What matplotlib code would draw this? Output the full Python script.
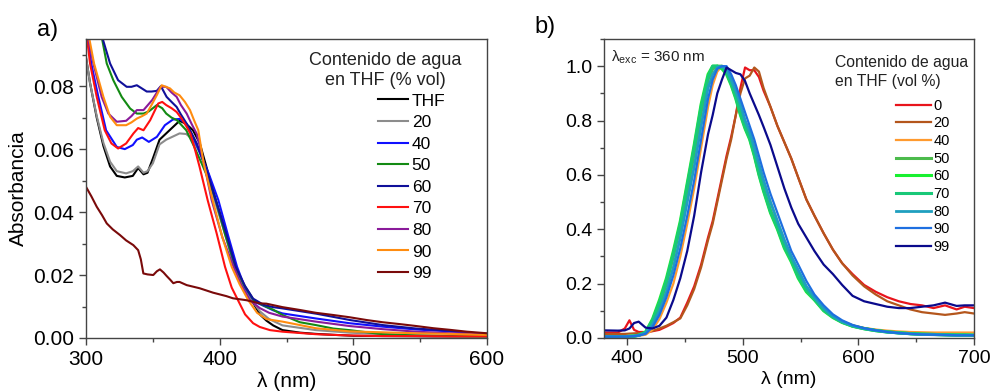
import matplotlib
matplotlib.use('Agg')
import matplotlib.pyplot as plt
from matplotlib.ticker import MultipleLocator

plt.rcParams['font.family'] = ['Liberation Sans', 'DejaVu Sans']
plt.rcParams['mathtext.fontset'] = 'custom'
plt.rcParams['mathtext.rm'] = 'Liberation Sans'

# ---- a) absorption spectra (wavelength nm, absorbance) ----
wl_thf = [300, 303, 308, 313, 318, 323, 329, 335, 339, 343, 346, 350, 355, 360, 365, 370, 375, 380, 385, 390,
          397, 405, 412, 418, 424, 430, 435, 440, 447, 460, 472, 485, 500, 530, 560, 600]
abs_thf = [0.089, 0.081, 0.070, 0.061, 0.0545, 0.0515, 0.051, 0.0515, 0.054, 0.052, 0.0525, 0.057, 0.063, 0.065,
           0.067, 0.069, 0.068, 0.066, 0.062, 0.0545, 0.044, 0.033, 0.0226, 0.016, 0.012, 0.0075, 0.0055, 0.004,
           0.0025, 0.0017, 0.0013, 0.001, 0.0007, 0.0006, 0.0005, 0.0005]

wl_20 = [300, 303, 308, 313, 318, 323, 330, 335, 339, 343, 346, 350, 355, 360, 365, 370, 375, 380, 385, 390,
         396, 404, 411, 418, 424, 430, 437, 447, 472, 497, 522, 547, 572, 600]
abs_20 = [0.089, 0.081, 0.0705, 0.062, 0.056, 0.053, 0.0523, 0.053, 0.0545, 0.0525, 0.053, 0.0555, 0.0615, 0.063,
          0.064, 0.065, 0.0648, 0.063, 0.059, 0.0535, 0.044, 0.033, 0.0226, 0.016, 0.012, 0.0085, 0.006, 0.004,
          0.0025, 0.0017, 0.0012, 0.0009, 0.0007, 0.0006]

wl_40 = [300, 304, 309, 315, 323, 329, 335, 338, 342, 347, 353, 359, 365, 370, 375, 380, 385, 392, 399, 406,
         413, 419, 426, 433, 440, 447, 472, 497, 522, 547, 572, 597, 600]
abs_40 = [0.098, 0.087, 0.077, 0.066, 0.0607, 0.060, 0.0613, 0.063, 0.0637, 0.0623, 0.0639, 0.0676, 0.0694,
          0.0696, 0.0681, 0.064, 0.059, 0.052, 0.0438, 0.033, 0.0226, 0.016, 0.0115, 0.0102, 0.0088, 0.0078,
          0.0062, 0.0047, 0.0036, 0.0027, 0.0021, 0.0014, 0.0013]

wl_50 = [300, 308, 312, 315.5, 320.4, 326.7, 333, 338, 343, 347, 353, 357, 360, 364, 368, 375, 381, 387, 392,
         397, 404, 411.6, 418, 425.5, 432, 440, 447, 460, 472, 485, 497, 522, 547, 572, 600]
abs_50 = [0.13, 0.105, 0.095, 0.0872, 0.0819, 0.0766, 0.0729, 0.0713, 0.0713, 0.072, 0.074, 0.073, 0.0713, 0.070,
          0.0692, 0.066, 0.0607, 0.055, 0.050, 0.0438, 0.033, 0.0226, 0.017, 0.012, 0.0105, 0.009, 0.0073, 0.005,
          0.0041, 0.003, 0.0025, 0.0012, 0.0008, 0.0006, 0.0005]

wl_60 = [300, 305, 310, 312.5, 318, 324, 330.4, 334, 338, 341, 345.4, 349, 352.9, 356, 360.3, 364, 367.8, 371,
         375.3, 379, 382.8, 387.5, 392, 397, 405, 412, 419, 425, 433, 440, 447, 472.5, 497.5, 522, 547, 572, 597, 600]
abs_60 = [0.14, 0.12, 0.103, 0.095, 0.0872, 0.0819, 0.0798, 0.0798, 0.0803, 0.0795, 0.0783, 0.0783, 0.0785, 0.080,
          0.0766, 0.075, 0.0734, 0.071, 0.0681, 0.065, 0.0619, 0.0565, 0.051, 0.0438, 0.033, 0.0226, 0.0165, 0.0125,
          0.0105, 0.0098, 0.0094, 0.0077, 0.0057, 0.0041, 0.003, 0.0023, 0.0012, 0.0012]

wl_70 = [300, 303, 308, 314, 319, 324, 330, 335.5, 339, 343, 348, 354, 357, 360, 364, 367.8, 371, 375.3, 378, 381,
         385, 391, 397.7, 404, 409, 413.7, 419, 425, 430, 437.6, 447, 472, 497, 522, 547, 572, 600]
abs_70 = [0.098, 0.0872, 0.0766, 0.066, 0.0618, 0.0602, 0.0618, 0.065, 0.0667, 0.066, 0.0692, 0.0745, 0.075,
          0.074, 0.073, 0.0718, 0.070, 0.0671, 0.065, 0.0607, 0.0543, 0.0438, 0.0333, 0.0226, 0.016, 0.012, 0.0075,
          0.0047, 0.0035, 0.0025, 0.002, 0.0012, 0.0008, 0.0006, 0.0006, 0.0005, 0.0005]

wl_80 = [300, 301.7, 305.5, 311.7, 316.7, 323, 330, 334, 338, 343, 349.5, 355.7, 360, 364, 367.8, 371, 375.3, 379,
         382.8, 388, 394, 402, 410.4, 416, 422.6, 430, 437, 447, 472, 497, 522, 547, 572, 597, 600]
abs_80 = [0.10, 0.095, 0.0872, 0.0766, 0.0713, 0.0687, 0.069, 0.0705, 0.0724, 0.0724, 0.0756, 0.0798, 0.0798,
          0.078, 0.0766, 0.074, 0.0713, 0.068, 0.0649, 0.056, 0.0438, 0.032, 0.0226, 0.017, 0.012, 0.0095, 0.008,
          0.0068, 0.0052, 0.0038, 0.0028, 0.002, 0.0015, 0.0013, 0.0013]

wl_90 = [300, 302.5, 306, 313, 318, 323, 330, 334, 338, 342, 345.4, 349, 352.9, 356.6, 362.8, 366, 370, 374,
         377.8, 381, 384, 388, 394.7, 402, 409, 415, 421.4, 428, 435, 447, 472, 497, 522, 547, 572, 597, 600]
abs_90 = [0.10, 0.095, 0.0872, 0.0766, 0.0703, 0.0676, 0.0676, 0.0685, 0.0697, 0.0705, 0.0713, 0.074, 0.0771,
          0.0803, 0.0793, 0.078, 0.0771, 0.075, 0.0724, 0.069, 0.066, 0.0555, 0.0438, 0.032, 0.0226, 0.017, 0.012,
          0.008, 0.006, 0.0052, 0.0031, 0.0021, 0.0018, 0.0015, 0.0013, 0.001, 0.001]

wl_99 = [300, 304, 308, 312, 315.5, 320, 325.4, 330, 335.4, 339, 341, 342.9, 346, 350.3, 353, 355.3, 358, 360.3,
         363, 365.3, 368, 370, 375.3, 385, 395, 405, 410, 420, 430, 435, 447, 460, 472, 485, 497, 510, 522, 535,
         547, 560, 572, 585, 597, 600]
abs_99 = [0.048, 0.045, 0.0417, 0.039, 0.0364, 0.0345, 0.0327, 0.031, 0.0295, 0.0279, 0.025, 0.0205, 0.0202,
          0.020, 0.0212, 0.0218, 0.0208, 0.0197, 0.0185, 0.0174, 0.0178, 0.0178, 0.0168, 0.0158, 0.0144, 0.0133,
          0.0126, 0.012, 0.011, 0.0109, 0.0098, 0.0089, 0.008, 0.0073, 0.0066, 0.0057, 0.005, 0.0044, 0.0038,
          0.0031, 0.0026, 0.002, 0.0016, 0.0015]

abs_series = [
    ('THF', wl_thf, abs_thf, 'black'),
    ('20', wl_20, abs_20, '#8c8c8c'),
    ('40', wl_40, abs_40, '#1010ff'),
    ('50', wl_50, abs_50, '#138a13'),
    ('60', wl_60, abs_60, '#10109a'),
    ('70', wl_70, abs_70, '#ff1010'),
    ('80', wl_80, abs_80, '#8a1a9a'),
    ('90', wl_90, abs_90, '#ff8c10'),
    ('99', wl_99, abs_99, '#7a0a0a'),
]

# ---- b) normalised emission (common wavelength grid) ----
wl_pl = [380, 392, 398, 402, 406, 410, 416, 422, 428, 434, 440, 446, 452, 458, 464, 470, 474, 478, 482, 486,
         490, 494, 498, 502, 506, 510, 514, 518, 524, 530, 536, 542, 548, 555, 562, 570, 578, 586, 595, 605,
         615, 625, 635, 645, 655, 665, 675, 685, 692, 700]
pl_0 = [0.02, 0.02, 0.035, 0.065, 0.03, 0.022, 0.022, 0.025, 0.03, 0.042, 0.055, 0.075, 0.13, 0.19, 0.27, 0.37,
        0.43, 0.51, 0.59, 0.67, 0.74, 0.82, 0.92, 0.995, 0.985, 0.985, 0.96, 0.91, 0.85, 0.78, 0.72, 0.66, 0.59,
        0.51, 0.45, 0.385, 0.325, 0.275, 0.235, 0.195, 0.17, 0.15, 0.135, 0.125, 0.12, 0.11, 0.12, 0.105, 0.115, 0.11]
pl_20 = [0.015, 0.015, 0.015, 0.016, 0.017, 0.018, 0.02, 0.026, 0.035, 0.045, 0.058, 0.072, 0.12, 0.18, 0.26,
         0.36, 0.42, 0.5, 0.58, 0.66, 0.73, 0.82, 0.9, 0.955, 0.965, 0.995, 0.98, 0.92, 0.85, 0.78, 0.72, 0.66,
         0.59, 0.51, 0.45, 0.385, 0.325, 0.275, 0.23, 0.19, 0.16, 0.135, 0.12, 0.105, 0.095, 0.09, 0.085, 0.09,
         0.095, 0.09]
pl_40 = [0.005, 0.005, 0.005, 0.006, 0.007, 0.008, 0.012, 0.03, 0.07, 0.13, 0.2, 0.3, 0.42, 0.55, 0.7, 0.85,
         0.93, 0.98, 1.0, 0.99, 0.96, 0.91, 0.86, 0.8, 0.76, 0.71, 0.64, 0.58, 0.5, 0.43, 0.36, 0.3, 0.24, 0.19,
         0.15, 0.11, 0.082, 0.062, 0.047, 0.037, 0.031, 0.027, 0.024, 0.022, 0.021, 0.02, 0.02, 0.02, 0.02, 0.02]
pl_50 = [0.005, 0.005, 0.005, 0.006, 0.007, 0.01, 0.02, 0.06, 0.12, 0.2, 0.3, 0.41, 0.54, 0.68, 0.83, 0.95,
         0.99, 1.0, 1.0, 0.98, 0.94, 0.89, 0.83, 0.78, 0.74, 0.68, 0.61, 0.55, 0.47, 0.41, 0.34, 0.29, 0.23, 0.18,
         0.145, 0.105, 0.078, 0.059, 0.044, 0.035, 0.028, 0.023, 0.019, 0.016, 0.014, 0.013, 0.012, 0.011, 0.011, 0.01]
pl_60 = [0.005, 0.005, 0.005, 0.006, 0.007, 0.01, 0.022, 0.07, 0.14, 0.22, 0.32, 0.43, 0.57, 0.71, 0.86, 0.97,
         1.0, 1.0, 0.99, 0.97, 0.93, 0.88, 0.82, 0.77, 0.73, 0.67, 0.6, 0.54, 0.46, 0.4, 0.33, 0.28, 0.22, 0.17,
         0.14, 0.1, 0.075, 0.057, 0.043, 0.034, 0.027, 0.022, 0.019, 0.016, 0.014, 0.013, 0.012, 0.011, 0.011, 0.01]
pl_70 = [0.005, 0.005, 0.005, 0.006, 0.007, 0.01, 0.021, 0.065, 0.13, 0.21, 0.31, 0.42, 0.56, 0.7, 0.85, 0.96,
         1.0, 1.0, 0.995, 0.975, 0.935, 0.885, 0.825, 0.775, 0.735, 0.675, 0.605, 0.545, 0.465, 0.405, 0.335,
         0.285, 0.225, 0.175, 0.142, 0.102, 0.077, 0.058, 0.044, 0.034, 0.027, 0.022, 0.019, 0.016, 0.014, 0.013,
         0.012, 0.011, 0.011, 0.01]
pl_80 = [0.005, 0.005, 0.005, 0.006, 0.007, 0.009, 0.018, 0.05, 0.1, 0.17, 0.26, 0.37, 0.5, 0.63, 0.78, 0.92,
         0.97, 0.995, 1.0, 0.99, 0.95, 0.91, 0.86, 0.8, 0.76, 0.7, 0.64, 0.58, 0.5, 0.43, 0.36, 0.3, 0.25, 0.19,
         0.15, 0.11, 0.08, 0.06, 0.045, 0.035, 0.028, 0.022, 0.018, 0.015, 0.013, 0.012, 0.011, 0.01, 0.01, 0.01]
pl_90 = [0.005, 0.005, 0.005, 0.006, 0.007, 0.009, 0.015, 0.04, 0.085, 0.15, 0.23, 0.33, 0.45, 0.58, 0.73, 0.88,
         0.95, 0.99, 1.0, 1.0, 0.97, 0.93, 0.88, 0.83, 0.78, 0.73, 0.67, 0.61, 0.53, 0.46, 0.39, 0.32, 0.27, 0.21,
         0.16, 0.12, 0.087, 0.065, 0.048, 0.036, 0.028, 0.022, 0.018, 0.015, 0.013, 0.012, 0.011, 0.01, 0.01, 0.01]
pl_99 = [0.028, 0.027, 0.028, 0.035, 0.055, 0.06, 0.038, 0.035, 0.045, 0.075, 0.14, 0.22, 0.32, 0.45, 0.61,
         0.75, 0.82, 0.9, 0.95, 0.995, 0.985, 0.975, 0.97, 0.945, 0.9, 0.86, 0.82, 0.777, 0.71, 0.63, 0.55, 0.48,
         0.42, 0.37, 0.32, 0.27, 0.235, 0.195, 0.155, 0.135, 0.125, 0.115, 0.11, 0.11, 0.115, 0.12, 0.13, 0.118,
         0.12, 0.12]

pl_series = [
    ('0', pl_0, '#e8141c', 1.6),
    ('20', pl_20, '#b4561c', 1.6),
    ('40', pl_40, '#ff9a2e', 1.6),
    ('50', pl_50, '#4cbb4c', 2.2),
    ('60', pl_60, '#19f030', 2.2),
    ('70', pl_70, '#19c878', 2.2),
    ('80', pl_80, '#1f9fbf', 2.0),
    ('90', pl_90, '#1e6fe0', 1.6),
    ('99', pl_99, '#0a0a8c', 1.6),
]

fig = plt.figure(figsize=(9.9, 3.92), dpi=100)
ax1 = fig.add_axes([0.0869, 0.1378, 0.405, 0.7628])
ax2 = fig.add_axes([0.6101, 0.1378, 0.3737, 0.7628])

for label, x, y, c in abs_series:
    ax1.plot(x, y, color=c, lw=1.5, label=label)
ax1.set_xlim(300, 600)
ax1.set_ylim(0, 0.095)
ax1.xaxis.set_major_locator(MultipleLocator(100))
ax1.xaxis.set_minor_locator(MultipleLocator(50))
ax1.yaxis.set_major_locator(MultipleLocator(0.02))
ax1.yaxis.set_minor_locator(MultipleLocator(0.01))
ax1.yaxis.set_major_formatter(plt.FormatStrFormatter('%.2f'))
ax1.set_xlabel('λ (nm)', fontsize=15, labelpad=2)
ax1.set_ylabel('Absorbancia', fontsize=15, labelpad=4)
ax1.tick_params(labelsize=15)
ax1.text(0.746, 0.895, 'Contenido de agua\nen THF (% vol)', transform=ax1.transAxes,
         ha='center', va='center', fontsize=13, linespacing=1.25, color='#222222')
ax1.legend(loc='upper left', bbox_to_anchor=(0.728, 0.818), frameon=False, fontsize=12.5,
           handlelength=1.75, handletextpad=0.2, labelspacing=0.37, borderpad=0, borderaxespad=0)

for label, y, c, lw in pl_series:
    ax2.plot(wl_pl, y, color=c, lw=lw, label=label)
ax2.set_xlim(380, 700)
ax2.set_ylim(0, 1.1)
ax2.xaxis.set_major_locator(MultipleLocator(100))
ax2.xaxis.set_minor_locator(MultipleLocator(50))
ax2.yaxis.set_major_locator(MultipleLocator(0.2))
ax2.yaxis.set_minor_locator(MultipleLocator(0.1))
ax2.yaxis.set_major_formatter(plt.FormatStrFormatter('%.1f'))
ax2.set_xlabel('λ (nm)', fontsize=14, labelpad=3)
ax2.tick_params(labelsize=14)
ax2.text(0.02, 0.94, 'λ$_\\mathregular{exc}$ = 360 nm', transform=ax2.transAxes,
         ha='left', va='center', fontsize=11, color='#222222')
ax2.text(0.624, 0.89, 'Contenido de agua\nen THF (vol %)', transform=ax2.transAxes,
         ha='left', va='center', fontsize=11.3, linespacing=1.3, color='#222222')
ax2.legend(loc='upper left', bbox_to_anchor=(0.79, 0.80), frameon=False, fontsize=10.5,
           handlelength=2.4, handletextpad=0.15, labelspacing=0.25, borderpad=0, borderaxespad=0)

for ax in (ax1, ax2):
    for s in ax.spines.values():
        s.set_color('#444444')
        s.set_linewidth(1.0)
    ax.tick_params(which='major', direction='out', length=5, width=1, color='#444444')
    ax.tick_params(which='minor', direction='out', length=3, width=1, color='#444444')

fig.text(0.037, 0.923, 'a)', fontsize=17, va='center', ha='left')
fig.text(0.540, 0.931, 'b)', fontsize=17, va='center', ha='left')

fig.savefig('out.png', dpi=100)
